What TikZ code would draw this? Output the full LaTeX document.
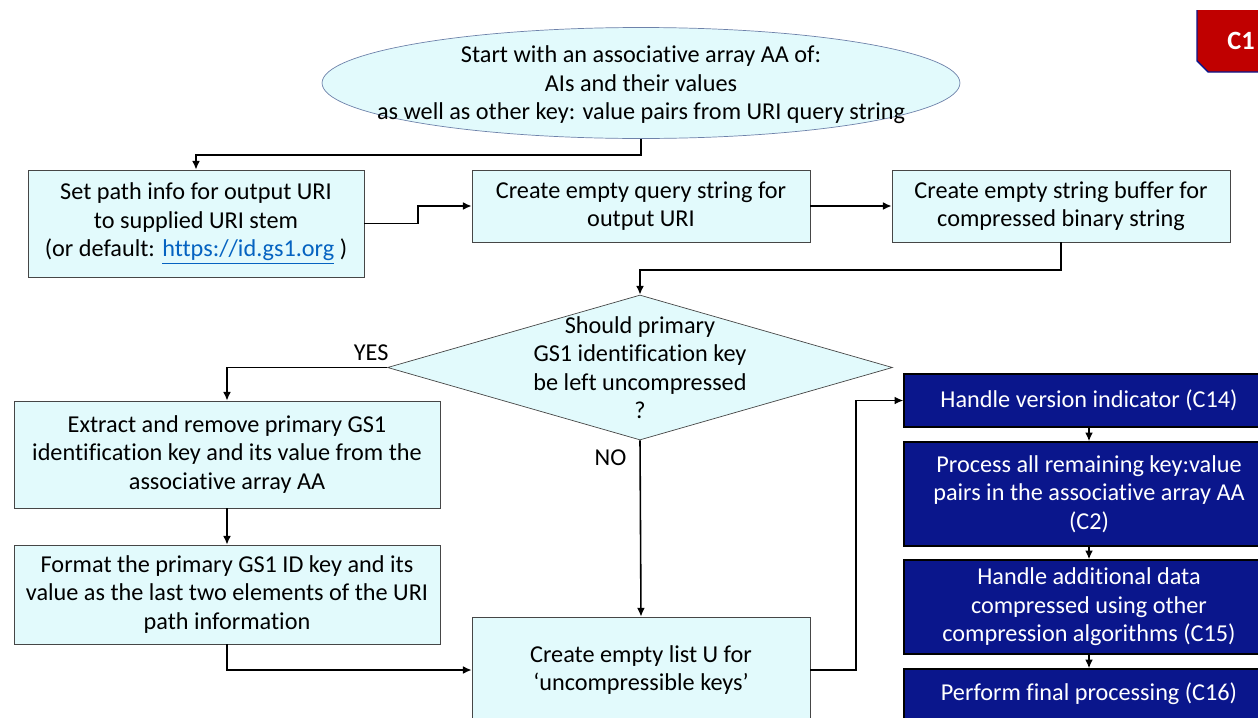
\documentclass[tikz,border=0pt]{standalone}
\usepackage{fontspec}
\setmainfont[Ligatures=NoCommon]{Carlito}
\usepackage{tikz}
\usetikzlibrary{arrows.meta,shapes.geometric}
\definecolor{boxfill}{RGB}{226,250,252}
\definecolor{boxline}{RGB}{70,70,70}
\definecolor{ellline}{RGB}{110,130,170}
\definecolor{navybox}{RGB}{10,22,140}
\definecolor{tagred}{RGB}{192,0,0}
\definecolor{linkblue}{RGB}{5,99,193}
\tikzset{
    flow/.style={-{Latex[length=5pt,width=4.5pt]}, line width=0.9pt},
    lightbox/.style={draw=boxline, fill=boxfill, align=center, inner sep=0pt},
    navystep/.style={draw=black, line width=0.8pt, fill=navybox, text=white, align=center,
        minimum width=7.4cm, inner sep=0pt},
    decision/.style={diamond, draw=boxline, fill=boxfill, inner sep=0pt, aspect=3.48,
        minimum width=10.1cm, minimum height=2.9cm},
    tagtext/.style={font=\bfseries\fontsize{15}{18}\selectfont, text=white},
}

\begin{document}
\begin{tikzpicture}[x=0.02cm, y=-0.02cm, font=\fontsize{13.8}{16.2}\selectfont]
    \useasboundingbox (0,0) rectangle (1258,717);
    % start
    \node[ellipse, draw=ellline, fill=boxfill, minimum width=12.76cm, minimum height=2.22cm] (start) at (641,83) {};
    \node[align=center] at (641,85) {Start with an associative array AA of:\\AIs and their values\\as well as other key: value pairs from URI query string};
    % first row
    \node[lightbox, minimum width=6.72cm, minimum height=2.14cm] (path) at (196,223.5) {Set path info for output URI\\to supplied URI stem\\(or default: \textcolor{linkblue}{\underline{https://id.gs1.org}} )};
    \node[lightbox, minimum width=6.76cm, minimum height=1.44cm] (query) at (641,206) {Create empty query string for\\output URI};
    \node[lightbox, minimum width=6.76cm, minimum height=1.44cm] (buffer) at (1061,206) {Create empty string buffer for\\compressed binary string};
    % decision
    \node[decision] (ask) at (640,367.5) {};
    \node[align=center] at (640,367.5) {Should primary\\GS1 identification key\\be left uncompressed\\?};
    % left column
    \node[lightbox, minimum width=8.52cm, minimum height=2.14cm] (extract) at (227,454.5) {Extract and remove primary GS1\\identification key and its value from the\\associative array AA};
    \node[lightbox, minimum width=8.52cm, minimum height=1.98cm] (format) at (227,594.5) {Format the primary GS1 ID key and its\\value as the last two elements of the URI\\path information};
    \node[lightbox, minimum width=6.76cm, minimum height=2.12cm] (listu) at (641,670) {Create empty list U for\\`uncompressible keys'};
    % right column
    \node[navystep, minimum height=1.06cm] (c14) at (1089,400.5) {Handle version indicator (C14)};
    \node[navystep, minimum height=2.08cm] (c2) at (1089,494) {Process all remaining key:value\\pairs in the associative array AA\\(C2)};
    \node[navystep, minimum height=1.88cm] (c15) at (1089,607) {Handle additional data\\compressed using other\\compression algorithms (C15)};
    \node[navystep, minimum height=1.0cm] (c16) at (1089,694) {Perform final processing (C16)};
    % tag
    \fill[tagred] (1197,10) -- (1270,10) -- (1270,72) -- (1208,72) -- (1197,61) -- cycle;
    \draw[navybox, line width=0.8pt] (1197,10) -- (1197,61) -- (1208,72) -- (1270,72);
    \node[tagtext] (tag) at (1241,41) {C1};
    % connectors
    \draw[flow] (start.south) -- (641,155) -| (path.north);
    \draw[flow] (path.east) -- (418,223.5) |- (query.west);
    \draw[flow] (query.east) -- (buffer.west);
    \draw[flow] (buffer.south) -- (1061,270) -| (ask.north);
    \draw[flow] (ask.west) -| (extract.north) node[pos=0.05, above] {YES};
    \draw[flow] (ask.south) -- (listu.north) node[pos=0.1, left, xshift=-4pt] {NO};
    \draw[flow] (extract.south) -- (format.north);
    \draw[flow] (format.south) |- (listu.west);
    \draw[flow] (listu.east) -- (856,670) |- (c14.west);
    \draw[flow] (c14.south) -- (c2.north);
    \draw[flow] (c2.south) -- (c15.north);
    \draw[flow] (c15.south) -- (c16.north);
\end{tikzpicture}
\end{document}
